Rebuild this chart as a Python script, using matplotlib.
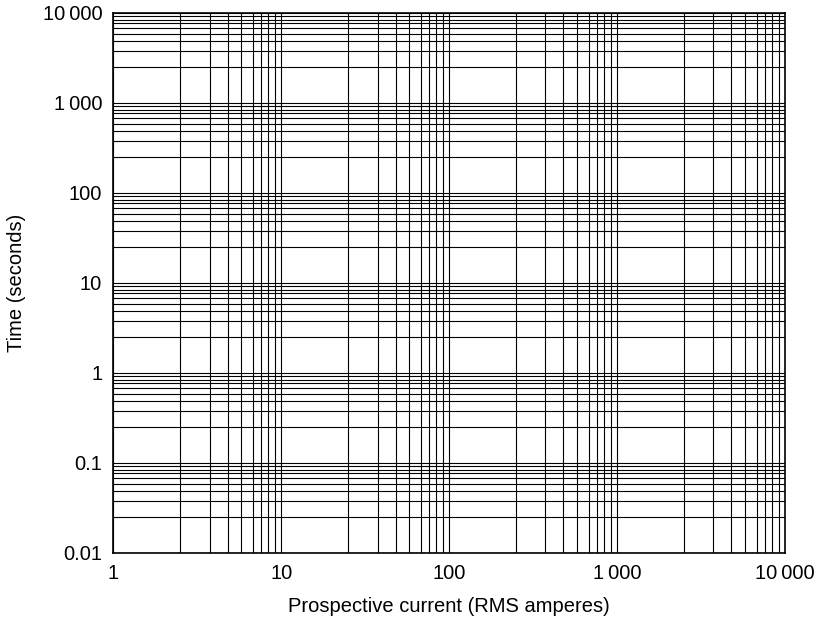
import matplotlib
matplotlib.use("Agg")
import matplotlib.pyplot as plt
from matplotlib.ticker import FixedLocator, NullFormatter

plt.rcParams['font.family'] = ['Liberation Sans', 'DejaVu Sans']

# Axis decades (major ticks) and labels
x_major = [1, 10, 100, 1000, 10000]
x_labels = ["1", "10", "100", "1\u2009000", "10\u2009000"]
y_major = [0.01, 0.1, 1, 10, 100, 1000, 10000]
y_labels = ["0.01", "0.1", "1", "10", "100", "1\u2009000", "10\u2009000"]

# Intermediate grid lines within each decade (multipliers, read from the paper)
grid_mult = [2.5, 3.75, 4.8, 5.8, 6.8, 7.6, 8.4, 9.2]

x_label = "Prospective current (RMS amperes)"
y_label = "Time (seconds)"

fig = plt.figure(figsize=(8.21, 6.19), dpi=100)
ax = fig.add_axes([0.138, 0.107, 0.818, 0.8725])
ax.set_xscale('log')
ax.set_yscale('log')
ax.set_xlim(x_major[0], x_major[-1])
ax.set_ylim(y_major[0], y_major[-1])

x_minor = [d * m for d in x_major[:-1] for m in grid_mult]
y_minor = [d * m for d in y_major[:-1] for m in grid_mult]

ax.xaxis.set_major_locator(FixedLocator(x_major))
ax.yaxis.set_major_locator(FixedLocator(y_major))
ax.xaxis.set_minor_locator(FixedLocator(x_minor))
ax.yaxis.set_minor_locator(FixedLocator(y_minor))
ax.xaxis.set_minor_formatter(NullFormatter())
ax.yaxis.set_minor_formatter(NullFormatter())
ax.set_xticklabels(x_labels)
ax.set_yticklabels(y_labels)

ax.tick_params(which='both', length=0, labelsize=14.5, pad=8, colors='black')
ax.grid(which='both', color='black', linewidth=0.8)
for s in ax.spines.values():
    s.set_linewidth(1.2)
    s.set_color('black')

ax.set_xlabel(x_label, fontsize=14.5, labelpad=10)
ax.set_ylabel(y_label, fontsize=14.5, labelpad=12)

fig.savefig("out.png", dpi=100)
